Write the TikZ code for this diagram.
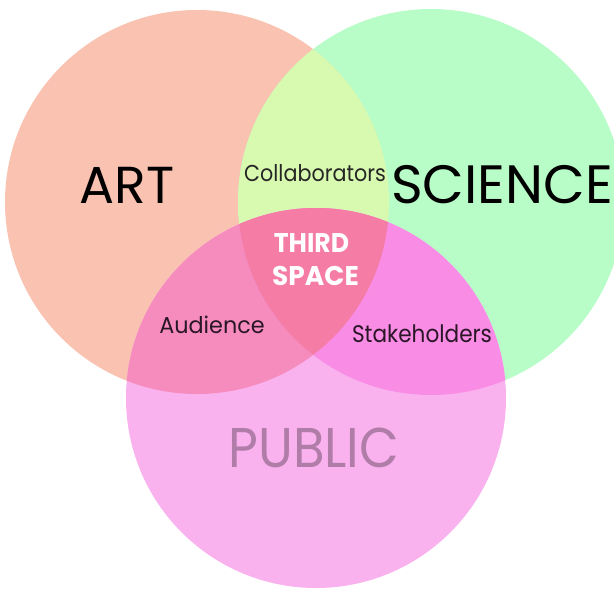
\documentclass[tikz,border=0pt]{standalone}
\usepackage{fontspec}
\setmainfont{Poppins}
\definecolor{artc}{HTML}{F9C2B1}
\definecolor{scic}{HTML}{B8FCC7}
\definecolor{pubc}{HTML}{FAB2EE}
\definecolor{asc}{HTML}{D8FAB0}
\definecolor{apc}{HTML}{F68CBE}
\definecolor{spc}{HTML}{F98DE6}
\definecolor{allc}{HTML}{F57CA5}
\definecolor{pubtext}{HTML}{B07CA8}
\definecolor{darktext}{HTML}{2A1626}
\begin{document}
\begin{tikzpicture}[x=1pt,y=-1pt,
  lbl/.style={anchor=base,inner sep=0pt},
  big/.style={lbl,font=\fontsize{52}{52}\selectfont,text=black},
  small/.style={lbl,font=\fontsize{23}{23}\selectfont,text=darktext},
  core/.style={lbl,font=\bfseries\fontsize{27}{27}\selectfont,text=white}]
\useasboundingbox (0,0) rectangle (614,589);
\coordinate (A) at (197,202);
\coordinate (S) at (431,202);
\coordinate (P) at (316,398);
\def\rA{192}\def\rS{193}\def\rP{190}
% base circles
\fill[artc] (A) circle[radius=\rA];
\fill[scic] (S) circle[radius=\rS];
\fill[pubc] (P) circle[radius=\rP];
% pairwise overlaps
\begin{scope}
  \clip (A) circle[radius=\rA];
  \fill[asc] (S) circle[radius=\rS];
  \fill[apc] (P) circle[radius=\rP];
\end{scope}
\begin{scope}
  \clip (S) circle[radius=\rS];
  \fill[spc] (P) circle[radius=\rP];
\end{scope}
% triple overlap
\begin{scope}
  \clip (A) circle[radius=\rA];
  \clip (S) circle[radius=\rS];
  \fill[allc] (P) circle[radius=\rP];
\end{scope}
% labels
\node[big] (art) at (127,203) {ART};
\node[big,font=\fontsize{54}{54}\selectfont] (sci) at (502,203) {SCIENCE};
\node[big,font=\fontsize{56}{56}\selectfont,text=pubtext] (pub) at (314,467) {\scalebox{0.92}[1]{PUBLIC}};
\node[small,text=black!85] (col) at (315,181) {\scalebox{0.9}[1]{Collaborators}};
\node[small] (aud) at (212,333) {\scalebox{0.97}[1]{Audience}};
\node[small,font=\fontsize{24}{24}\selectfont] (stk) at (422,342) {\scalebox{0.9}[1]{Stakeholders}};
\node[core] (third) at (311.5,252) {\scalebox{0.93}[1]{THIRD}};
\node[core] (space) at (315.5,285) {\scalebox{0.98}[1]{SPACE}};
\end{tikzpicture}
\end{document}
